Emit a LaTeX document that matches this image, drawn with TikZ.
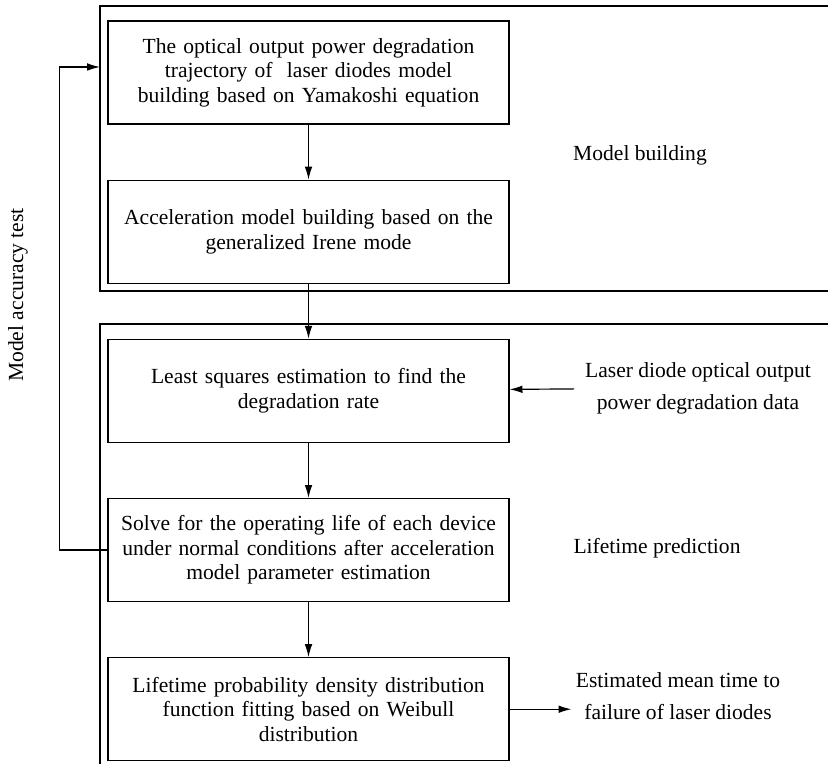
\documentclass[tikz,border=0pt]{standalone}
\usepackage{fontspec}
\setmainfont{Liberation Serif}
\usetikzlibrary{positioning,arrows.meta}
\tikzset{
	stage/.style = {draw, text width=12.03cm, inner xsep=0pt, minimum height=3.09cm,
	 align=center, font=\fontsize{18.4}{20.9}\selectfont}}
\tikzset{
	note/.style = {align=center, font=\fontsize{18.4}{27.3}\selectfont}}

\begin{document}
\begin{tikzpicture}[x=0.03cm, y=-0.03cm, node distance=1.65cm, line width=1pt,
 >={Latex[length=11pt,width=6.5pt]}]
\useasboundingbox (0,0) rectangle (828,764);

% FRAMES
\draw (828,6) -- (100,6) -- (100,291) -- (828,291);
\draw (828,324) -- (100,324) -- (100,764);

% NODES
% model building
\node (traj) [stage] at (308.5,72.5) {The optical output power degradation\\
 trajectory of\ \ laser diodes model\\ building based on Yamakoshi equation};
\node (accel) [stage, below=of traj] {Acceleration model building based on the\\
 generalized Irene mode};
\node (mbuild) [note] at (640,155) {Model building};
% lifetime prediction
\node (lsq) [stage, below=of accel] {Least squares estimation to find the\\ degradation rate};
\node (life) [stage, below=of lsq] {Solve for the operating life of each device\\
 under normal conditions after acceleration\\ model parameter estimation};
\node (weib) [stage, below=of life] {Lifetime probability density distribution\\
 function fitting based on Weibull\\ distribution};
\node (data) [note, inner xsep=9pt] at (698,388) {Laser diode optical output\\ power degradation data};
\node (lpred) [note] at (657,548) {Lifetime prediction};
\node (mttf) [note] at (678,696) {Estimated mean time to\\ failure of laser diodes};
% feedback
\node (acctest) [note, rotate=90] at (18,295) {Model accuracy test};
\coordinate (fbin) at (100,67);

%CONNECTIONS
\draw [->] (traj) -- (accel);
\draw [->] (accel) -- (lsq);
\draw [->] (data) -- (lsq);
\draw [->] (lsq) -- (life);
\draw [->] (life) -- (weib);
\draw [->] (weib) -- (weib -| mttf.west);
\draw [->] (life.west) -- ++(-48,0) |- (fbin);

\end{tikzpicture}
\end{document}
